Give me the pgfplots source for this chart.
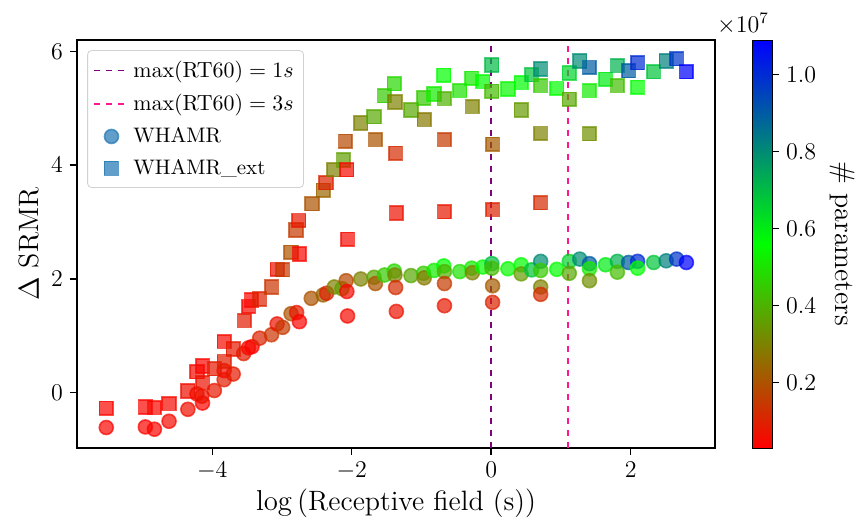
\documentclass[border=0pt]{standalone}
\usepackage{pgfplots}
\usepackage{pgfplotstable}
\pgfplotsset{compat=1.18}
\definecolor{cz}{RGB}{31,119,180}
\definecolor{rtone}{RGB}{128,0,128}
\definecolor{rtthree}{RGB}{255,20,147}

\pgfplotstableread{
x y c
-5.52 -0.61 0.04
-4.96 -0.60 0.04
-4.83 -0.64 0.04
-4.62 -0.50 0.05
-4.35 -0.29 0.06
-4.22 -0.02 0.05
-4.14 -0.18 0.04
-4.15 -0.06 0.07
-3.97 0.04 0.08
-3.83 0.23 0.09
-3.83 0.39 0.05
-3.70 0.33 0.08
-3.55 0.69 0.09
-3.48 0.79 0.05
-3.43 0.81 0.04
-3.32 0.96 0.10
-3.15 1.02 0.14
-3.07 1.21 0.07
-2.99 1.15 0.15
-2.87 1.39 0.20
-2.79 1.41 0.08
-2.75 1.25 0.04
-2.58 1.66 0.20
-2.41 1.72 0.24
-2.36 1.75 0.10
-2.25 1.86 0.30
-2.14 1.83 0.36
-2.08 1.97 0.18
-2.07 1.78 0.05
-2.06 1.35 0.05
-1.87 2.00 0.30
-1.68 2.03 0.38
-1.66 1.92 0.20
-1.53 2.07 0.45
-1.39 2.14 0.48
-1.38 2.07 0.30
-1.37 1.85 0.12
-1.36 1.43 0.07
-1.15 2.06 0.38
-0.97 2.10 0.45
-0.96 2.02 0.28
-0.82 2.15 0.52
-0.68 2.23 0.56
-0.67 2.13 0.40
-0.67 1.92 0.15
-0.67 1.53 0.08
-0.45 2.13 0.50
-0.28 2.19 0.52
-0.27 2.11 0.30
-0.12 2.21 0.56
0.01 2.27 0.70
0.01 2.19 0.42
0.02 1.88 0.22
0.02 1.59 0.10
0.24 2.18 0.55
0.43 2.25 0.56
0.43 2.09 0.35
0.58 2.16 0.68
0.71 2.31 0.80
0.71 2.15 0.45
0.71 1.86 0.30
0.71 1.73 0.12
0.94 2.17 0.56
1.12 2.31 0.65
1.12 2.10 0.38
1.27 2.35 0.80
1.41 2.27 0.90
1.41 2.18 0.52
1.41 1.97 0.33
1.64 2.25 0.60
1.81 2.31 0.72
1.81 2.12 0.42
1.97 2.29 0.90
2.10 2.31 1.00
2.10 2.19 0.56
2.33 2.29 0.68
2.51 2.32 0.82
2.66 2.35 0.98
2.80 2.29 1.09
}\whamr

\pgfplotstableread{
x y c
-5.52 -0.27 0.04
-4.96 -0.25 0.04
-4.83 -0.26 0.04
-4.62 -0.19 0.05
-4.35 0.03 0.06
-4.22 0.37 0.05
-4.14 0.18 0.07
-4.14 0.47 0.04
-3.97 0.42 0.08
-3.83 0.55 0.09
-3.83 0.90 0.05
-3.70 0.77 0.08
-3.54 1.27 0.09
-3.48 1.52 0.05
-3.44 1.63 0.04
-3.32 1.65 0.10
-3.15 1.86 0.14
-3.07 2.17 0.07
-2.99 2.16 0.15
-2.87 2.47 0.20
-2.80 2.86 0.15
-2.76 3.03 0.08
-2.75 2.44 0.04
-2.57 3.32 0.20
-2.41 3.56 0.24
-2.37 3.69 0.10
-2.26 3.92 0.30
-2.12 4.09 0.36
-2.09 4.42 0.18
-2.07 3.92 0.05
-2.06 2.70 0.05
-1.87 4.74 0.30
-1.68 4.85 0.38
-1.66 4.45 0.20
-1.53 5.22 0.45
-1.39 5.43 0.48
-1.38 5.11 0.30
-1.37 4.21 0.12
-1.36 3.16 0.07
-1.15 4.97 0.38
-0.97 5.18 0.45
-0.96 4.80 0.28
-0.82 5.25 0.52
-0.68 5.58 0.56
-0.67 5.17 0.40
-0.67 4.45 0.15
-0.67 3.18 0.08
-0.45 5.31 0.50
-0.28 5.53 0.52
-0.27 5.03 0.30
-0.12 5.47 0.56
0.01 5.76 0.70
0.01 5.30 0.42
0.02 4.37 0.22
0.02 3.22 0.10
0.24 5.34 0.55
0.43 5.45 0.56
0.43 4.97 0.35
0.58 5.59 0.68
0.71 5.69 0.80
0.71 5.40 0.45
0.71 4.56 0.30
0.71 3.34 0.12
0.94 5.35 0.56
1.12 5.62 0.65
1.12 5.16 0.38
1.27 5.83 0.80
1.41 5.72 0.90
1.41 5.31 0.52
1.41 4.55 0.33
1.64 5.51 0.60
1.81 5.75 0.72
1.81 5.40 0.42
1.97 5.66 0.90
2.10 5.80 1.00
2.10 5.37 0.56
2.33 5.64 0.68
2.51 5.83 0.82
2.66 5.87 0.98
2.80 5.64 1.09
}\whamrext

\begin{document}
\begin{tikzpicture}
\begin{axis}[
  at={(0,0)}, anchor=south west,
  scale only axis,
  width=319pt, height=204pt,
  xmin=-5.94, xmax=3.21,
  ymin=-0.97, ymax=6.2,
  xtick={-4,-2,0,2}, ytick={0,2,4,6},
  tick align=outside, tick pos=left,
  major tick length=3.5pt,
  axis line style={line width=0.7pt},
  every tick/.style={line width=0.7pt, black},
  tick label style={font=\fontsize{12}{14}\selectfont},
  label style={font=\fontsize{14}{16}\selectfont},
  xlabel={$\log\left(\mbox{Receptive field (s)}\right)$},
  ylabel={$\Delta$ SRMR},
  xlabel style={yshift=2pt},
  ylabel style={yshift=-1pt},
  colormap={rgbmap}{rgb255=(255,0,0) rgb255=(0,255,0) rgb255=(0,0,255)},
  point meta min=0.03, point meta max=1.09,
  colorbar right,
  colorbar style={
    at={(parent axis.north east)}, anchor=north west, xshift=10pt,
    width=10pt,
    ytick={0.2,0.4,0.6,0.8,1.0},
    yticklabel style={font=\fontsize{12}{14}\selectfont, /pgf/number format/.cd, fixed, fixed zerofill, precision=1},
    yticklabel pos=right, ytick pos=right,
    tick align=outside, major tick length=3.5pt,
    ylabel={\# parameters},
    ylabel style={font=\fontsize{14}{16}\selectfont, rotate=180},
  },
  legend cell align=left,
  legend style={at={(0.016,0.975)}, anchor=north west,
    font=\fontsize{10.5}{12}\selectfont,
    draw=black!18, rounded corners=2pt, fill=white, fill opacity=0.8, text opacity=1,
    row sep=3pt, inner sep=3pt},
]
\addlegendimage{rtone, dashed, line width=0.8pt}
\addlegendentry{$\max(\mathrm{RT60}) = 1s$}
\addlegendimage{rtthree, dashed, line width=0.8pt}
\addlegendentry{$\max(\mathrm{RT60}) = 3s$}
\addlegendimage{only marks, mark=*, mark size=3.5pt, mark options={fill=cz, draw=cz, opacity=0.7, line width=0.8pt}}
\addlegendentry{WHAMR}
\addlegendimage{only marks, mark=square*, mark size=3.5pt, mark options={fill=cz, draw=cz, opacity=0.7, line width=0.8pt}}
\addlegendentry{WHAMR\_ext}

\addplot[forget plot, scatter, only marks, mark=*, mark size=3.5pt,
  scatter src=explicit,
  scatter/use mapped color={draw=mapped color, fill=mapped color},
  mark options={opacity=0.7, line width=0.8pt}]
  table[x=x, y=y, meta=c] {\whamr};
\addplot[forget plot, scatter, only marks, mark=square*, mark size=3.4pt,
  scatter src=explicit,
  scatter/use mapped color={draw=mapped color, fill=mapped color},
  mark options={opacity=0.7, line width=0.8pt}]
  table[x=x, y=y, meta=c] {\whamrext};

\addplot[forget plot, rtone, dashed, line width=0.8pt] coordinates {(0,-0.97) (0,6.2)};
\addplot[forget plot, rtthree, dashed, line width=0.8pt] coordinates {(1.0986,-0.97) (1.0986,6.2)};
\end{axis}
\node[font=\fontsize{12}{14}\selectfont] at (333pt,212pt) {$\times10^{7}$};
\pgfresetboundingbox
\path (-38.5pt,-37.5pt) rectangle (393.5pt,224pt);
\end{tikzpicture}
\end{document}
